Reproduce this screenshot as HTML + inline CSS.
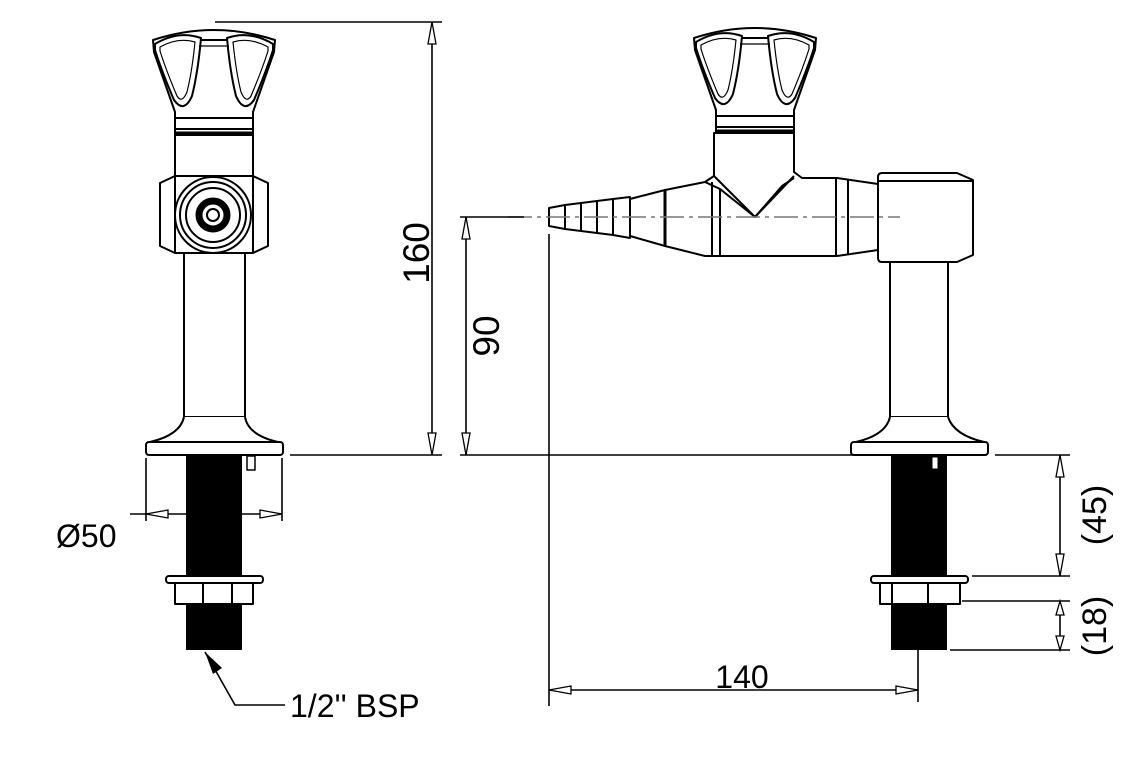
<!DOCTYPE html>
<html><head><meta charset="utf-8"><style>
html,body{margin:0;padding:0;background:#fff;}
svg{display:block;}
text{font-family:"Liberation Sans",sans-serif;fill:#000;}
</style></head><body>
<svg width="1140" height="760" viewBox="0 0 1140 760" xmlns="http://www.w3.org/2000/svg">
<defs>
<g id="handle" fill="none" stroke="#000" stroke-width="2" stroke-linejoin="round">
<path d="M153,40 Q214,20 275,40 L274,52 L253,112 L253,135 L175,135 L175,112 L154,52 Z" fill="#fff"/>
<path d="M155,44 Q178,30 201,38 Q198,72 192,96 Q184,114 174,100 Q162,72 155,50 Z"/>
<path d="M160,47 Q178,37 195,42 Q192,72 187,92 Q182,104 177,96 Q166,70 160,51 Z" stroke-width="1.2"/>
<path d="M273,44 Q250,30 227,38 Q230,72 236,96 Q244,114 254,100 Q266,72 273,50 Z"/>
<path d="M268,47 Q250,37 233,42 Q236,72 241,92 Q246,104 251,96 Q262,70 268,51 Z" stroke-width="1.2"/>
<line x1="201" y1="40" x2="227" y2="40"/>
<line x1="199" y1="46" x2="229" y2="46" stroke-width="1.2"/>
<line x1="176" y1="118" x2="252" y2="118"/>
<line x1="176" y1="129" x2="252" y2="129"/>
<line x1="176" y1="133" x2="252" y2="133" stroke-width="3"/>
</g>
</defs>
<g fill="none" stroke="#000" stroke-width="2" stroke-linejoin="round">
<use href="#handle"/>
<rect x="175" y="135" width="78" height="45" fill="#fff"/>
<path d="M160,183 L175,176 L253,176 L268,183 L268,246 L253,253 L175,253 L160,246 Z" fill="#fff"/>
<line x1="175" y1="176" x2="175" y2="253"/>
<line x1="253" y1="176" x2="253" y2="253"/>
<circle cx="213" cy="215" r="38" fill="#fff"/>
<circle cx="213" cy="215" r="33"/>
<circle cx="213" cy="215" r="27"/>
<circle cx="213" cy="215" r="14" stroke-width="7"/>
<circle cx="213" cy="215" r="6"/>
<rect x="184" y="253" width="61" height="164" fill="#fff"/>
<path d="M184,417 Q180,435 150,442 L278,442 Q248,435 245,417" fill="#fff"/>
<rect x="146" y="442" width="137" height="13" rx="3" fill="#fff"/>
<rect x="186" y="456" width="56" height="120" fill="#000" stroke="none"/>
<rect x="186" y="604" width="56" height="46" fill="#000" stroke="none"/>
<rect x="247" y="456" width="8" height="14" stroke-width="1.5"/>
<rect x="166" y="576" width="97" height="7" rx="3" fill="#fff"/>
<rect x="175" y="583" width="78" height="21" fill="#fff"/>
<line x1="203" y1="583" x2="203" y2="604"/><line x1="232" y1="583" x2="232" y2="604"/>

<use href="#handle" transform="translate(541,-2)"/>
<path d="M714,133 L714,176 L705,182 L665,190 L630,199 L630,236 L665,246 L705,256 L837,256 L878,250 L878,184 L837,178 L802,178 L794,172 L794,133 Z" fill="#fff"/>
<path d="M714,176 L755,217 L794,176"/>
<path d="M705,182 L720,189 L755,217 L782,186 L794,178"/>
<line x1="712" y1="182" x2="712" y2="256"/>
<line x1="720" y1="189" x2="720" y2="256"/>
<line x1="665" y1="190" x2="665" y2="246" stroke-width="3"/>
<line x1="836" y1="178" x2="836" y2="256"/>
<line x1="848" y1="180" x2="848" y2="254"/>
<path d="M549,208 L565,205 L565,229 L549,226 Z M565,205 L581,203 L581,231 L565,229 M581,203 L597,201 L597,233 L581,231 M597,201 L613,199 L613,235 L597,233 M613,199 L630,197 L630,238 L613,235" fill="#fff"/>
<path d="M882,173 L957,173 L973,180 L973,255 L957,262 L882,262 Q878,262 878,258 L878,177 Q878,173 882,173 Z" fill="#fff"/>
<line x1="878" y1="181" x2="973" y2="181"/>
<rect x="890" y="262" width="58" height="155" fill="#fff"/>
<path d="M890,417 Q886,435 856,442 L984,442 Q954,435 948,417" fill="#fff"/>
<rect x="851" y="442" width="137" height="13" rx="3" fill="#fff"/>
<rect x="891" y="456" width="56" height="120" fill="#000" stroke="none"/>
<rect x="891" y="604" width="56" height="46" fill="#000" stroke="none"/>
<rect x="932" y="457" width="6" height="12" fill="#fff" stroke-width="1"/>
<rect x="871" y="576" width="97" height="7" rx="3" fill="#fff"/>
<rect x="880" y="583" width="80" height="21" fill="#fff"/>
<line x1="892" y1="583" x2="892" y2="604"/><line x1="928" y1="583" x2="928" y2="604"/>
</g>
<line x1="508" y1="217" x2="900" y2="217" stroke="#777" stroke-width="1.5" stroke-dasharray="24,5,4,5"/>

<g stroke="#000" stroke-width="1.6" fill="none">
<line x1="215" y1="22" x2="442" y2="22"/>
<line x1="290" y1="455" x2="442" y2="455"/>
<line x1="432" y1="22" x2="432" y2="455"/>
<line x1="460" y1="217" x2="524" y2="217"/>
<line x1="460" y1="455" x2="860" y2="455"/>
<line x1="466" y1="217" x2="466" y2="455"/>
<line x1="549" y1="234" x2="549" y2="706"/>
<line x1="918" y1="604" x2="918" y2="702"/>
<line x1="549" y1="690" x2="918" y2="690"/>
<line x1="146" y1="458" x2="146" y2="521"/>
<line x1="282" y1="458" x2="282" y2="521"/>
<line x1="130" y1="514" x2="282" y2="514"/>
<line x1="995" y1="455" x2="1070" y2="455"/>
<line x1="972" y1="576" x2="1070" y2="576"/>
<line x1="962" y1="601" x2="1070" y2="601"/>
<line x1="950" y1="650" x2="1070" y2="650"/>
<line x1="1060" y1="455" x2="1060" y2="576"/>
<line x1="1060" y1="601" x2="1060" y2="650"/>
<polyline points="205,652 235,705 285,705"/>
</g>
<g fill="#fff" stroke="#000" stroke-width="1.3">
<path d="M432,22 L428,44 L436,44 Z"/><path d="M432,455 L428,433 L436,433 Z"/>
<path d="M466,217 L462,239 L470,239 Z"/><path d="M466,455 L462,433 L470,433 Z"/>
<path d="M549,690 L571,686 L571,694 Z"/><path d="M918,690 L896,686 L896,694 Z"/>
<path d="M146,514 L168,510 L168,518 Z"/><path d="M282,514 L260,510 L260,518 Z"/>
<path d="M1060,455 L1056,477 L1064,477 Z"/><path d="M1060,576 L1056,554 L1064,554 Z"/>
<path d="M1060,601 L1056,615 L1064,615 Z"/><path d="M1060,650 L1056,636 L1064,636 Z"/>
</g>
<path d="M205,652 L222,668 L213,674 Z" fill="#000"/>
<g font-size="32">
<text x="0" y="0" transform="translate(429,253) rotate(-90)" text-anchor="middle" font-size="37">160</text>
<text x="0" y="0" transform="translate(499,336) rotate(-90)" text-anchor="middle" font-size="37">90</text>
<text x="1106" y="515" transform="rotate(-90 1106 515)" text-anchor="middle" font-size="34">(45)</text>
<text x="1106" y="626" transform="rotate(-90 1106 626)" text-anchor="middle" font-size="34">(18)</text>
<text x="742" y="688" text-anchor="middle">140</text>
<text x="56" y="547">Ø50</text>
<text x="290" y="717">1/2'' BSP</text>
</g>
</svg>
</body></html>
